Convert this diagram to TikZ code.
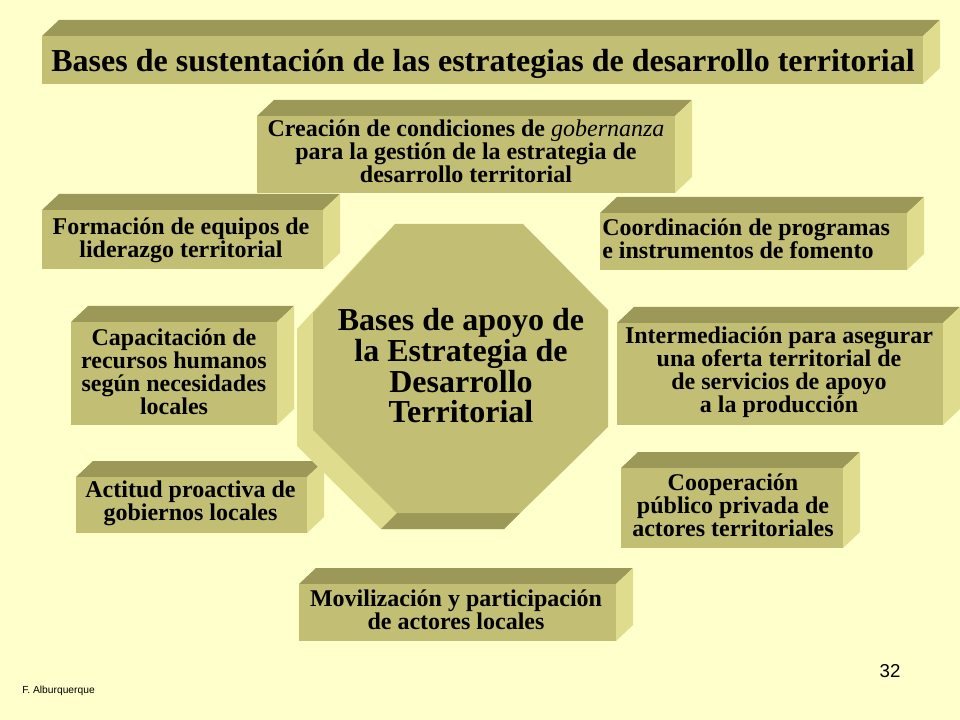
\documentclass[tikz,border=0pt]{standalone}
\usepackage{fontspec}
\IfFontExistsTF{LiberationSerif-Regular.ttf}{%
  \setmainfont{LiberationSerif}[Extension=.ttf,UprightFont=*-Regular,BoldFont=*-Bold,ItalicFont=*-Italic,BoldItalicFont=*-BoldItalic]}{%
  \setmainfont{Liberation Serif}}
\newfontfamily\arialf{Liberation Sans}
\definecolor{bg}{HTML}{FFFFCC}
\definecolor{frontc}{HTML}{C2BE74}
\definecolor{topc}{HTML}{9C9858}
\definecolor{sidec}{HTML}{E0DC8E}
\newcommand\slab[4]{%
  \fill[topc] (#1,#2) -- (#1+17,#2-16) -- (#3+17,#2-16) -- (#3,#2) -- cycle;
  \fill[sidec] (#3,#2) -- (#3+17,#2-16) -- (#3+17,#4-16) -- (#3,#4) -- cycle;
  \fill[frontc] (#1,#2) rectangle (#3,#4);
}
\tikzset{
  lbl/.style={font=\rmfamily\fontsize{18}{17.25}\selectfont\bfseries, align=center, inner sep=0pt, text=black},
  bigtxt/.style={font=\rmfamily\fontsize{24}{23}\selectfont\bfseries, align=center, inner sep=0pt, text=black}
}
\begin{document}
\begin{tikzpicture}[x=0.75pt, y=-0.75pt]
\useasboundingbox (0,0) rectangle (960,720);
\fill[bg] (0,0) rectangle (960,720);
% boxes
\slab{42}{36}{923}{84}
\slab{257}{116}{675}{193}
\slab{42}{210}{323}{269}
\slab{600}{213}{907}{270}
\slab{71}{322}{277}{425}
\slab{617}{323}{943}{425}
\slab{76}{477}{307}{533}
\slab{621}{468}{843}{548}
\slab{299}{584}{616}{641}
% octagon
\fill[sidec] (379,240) -- (507,240) -- (592,326) -- (592,443) -- (504,529) -- (381,529) -- (297,446) -- (297,329) -- cycle;
\fill[topc] (397,513) -- (520,513) -- (504,529) -- (381,529) -- cycle;
\fill[frontc] (395,224) -- (523,224) -- (608,310) -- (608,427) -- (520,513) -- (397,513) -- (313,430) -- (313,313) -- cycle;
% texts
\node[bigtxt, anchor=base] (title) at (483,72) {Bases de sustentación de las estrategias de desarrollo territorial};
\node[lbl] (creacion) at (466,151.5) {Creación de condiciones de {\mdseries\itshape gobernanza}\\para la gestión de la estrategia de\\desarrollo territorial};
\node[lbl] (formacion) at (181,240) {Formación de equipos de\\liderazgo territorial};
\node[lbl, align=left, anchor=west] (coord) at (602,239) {Coordinación de programas\\e instrumentos de fomento};
\node[lbl] (capac) at (174,371.5) {Capacitación de\\recursos humanos\\según necesidades\\locales};
\node[lbl] (interm) at (779,372) {Intermediación para asegurar\\una oferta territorial de\\de servicios de apoyo\\a la producción};
\node[lbl] (actitud) at (190.5,503.5) {Actitud proactiva de\\gobiernos locales};
\node[lbl] (coop) at (733,505) {Cooperación\\público privada de\\actores territoriales};
\node[lbl] (movil) at (456,610) {Movilización y participación\\de actores locales};
\node[bigtxt] (centro) at (461,366) {Bases de apoyo de\\la Estrategia de\\Desarrollo\\Territorial};
\node[font=\arialf\fontsize{7.7}{8}\selectfont, anchor=west, inner sep=0pt] (autor) at (22,691) {F. Alburquerque};
\node[font=\arialf\fontsize{14}{14}\selectfont, inner sep=0pt] (pagina) at (890,671) {32};
\end{tikzpicture}
\end{document}
